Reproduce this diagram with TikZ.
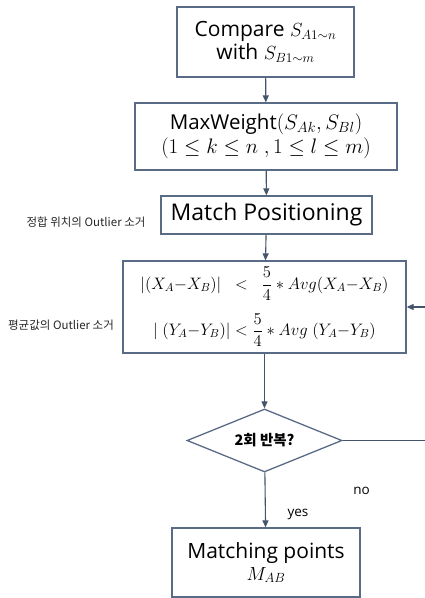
\documentclass[tikz,border=0pt]{standalone}
\usepackage{fix-cm}
\usepackage{amsmath}
\usepackage[no-math]{fontspec}
\setmainfont{Open Sans}
\newfontfamily\kr{Noto Sans CJK KR}
\usetikzlibrary{shapes.geometric,arrows.meta}
\definecolor{slate}{HTML}{44546A}
\definecolor{boxline}{HTML}{5A6B86}
\newcommand{\fsz}[1]{\fontsize{#1}{1.2\dimexpr#1pt\relax}\selectfont}
\begin{document}
\begin{tikzpicture}[x=1pt,y=-1pt,
  flowbox/.style={draw=boxline,line width=1.3pt,minimum width=#1,inner sep=0pt,align=center,fill=white},
  arr/.style={draw=slate,line width=1.1pt,-{Triangle[length=7pt,width=6pt]}},
  note/.style={font=\kr\fsz{11.5},text=black!85}]
\clip (0,0) rectangle (425,598);
\fill[white] (0,0) rectangle (425,598);
\node[flowbox=177pt,minimum height=70pt] (b1) at (265.5,42)
  {\fsz{21}Compare {\fsz{19}$S_{A1\sim n}$}\\[1pt] \fsz{21}with {\fsz{19}$S_{B1\sim m}$}};
\node[flowbox=262pt,minimum height=67pt] (b2) at (266,136.5)
  {\fsz{20.5}MaxWeight{\fsz{21}$(S_{Ak},S_{Bl})$}\\[2pt] \fsz{21}$(1\le k\le n\;,1\le l\le m)$};
\node[flowbox=211pt,minimum height=38pt] (b3) at (266.5,215)
  {\fsz{23}Match Positioning};
\node[flowbox=283pt,minimum height=92pt] (b4) at (264.5,307)
  {\fsz{16.6}$\left|(X_A{-}X_B)\right|\;\;<\;\;\dfrac{5}{4} * Avg(X_A{-}X_B)$\\[12pt]
   \fsz{16.6}$|\;(Y_A{-}Y_B)|<\dfrac{5}{4} * Avg\;(Y_A{-}Y_B)$};
\node[diamond,draw=boxline,line width=1.3pt,minimum width=155pt,minimum height=63pt,inner sep=0pt,aspect=2.46,fill=white] (d) at (264.5,440.5)
  {\kr\bfseries\fsz{14.5}2회 반복?};
\node[flowbox=188pt,minimum height=69pt] (b5) at (266,562.5)
  {\fsz{21}Matching points\\[3pt] \fsz{19}$M_{AB}$};
\node[note] (l1) at (86,222) {정합 위치의 Outlier 소거};
\node[note] (l2) at (61,325) {평균값의 Outlier 소거};
\node[font=\fsz{13.5}] (no) at (361.5,491) {no};
\node[font=\fsz{13.5}] (yes) at (298,514) {yes};
\coordinate (c1) at (435,440.5);
\coordinate (c2) at (435,307);
\draw[arr] (b1) -- (b2);
\draw[arr] (b2) -- (b3);
\draw[arr] (b3) -- (b4);
\draw[arr] (b4) -- (d);
\draw[arr] (d) -- (b5);
\draw[arr] (d.east) -- (c1) -- (c2) -- (b4.east);
\end{tikzpicture}
\end{document}
